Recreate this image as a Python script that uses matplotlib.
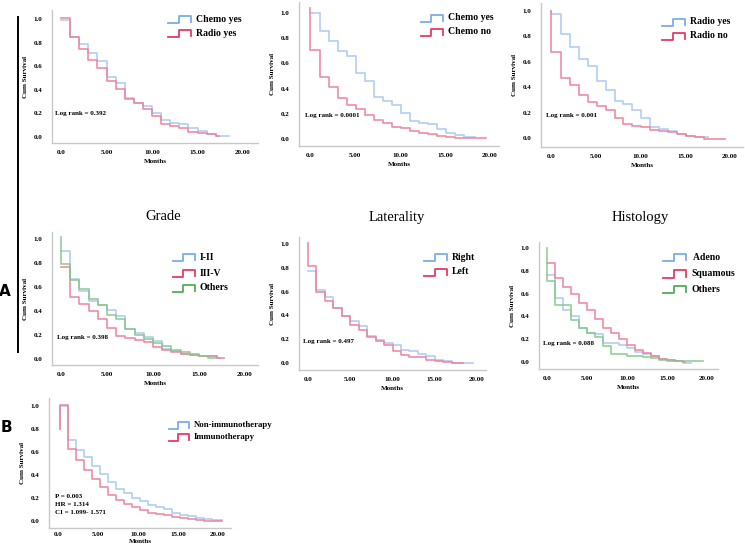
import matplotlib
matplotlib.use("Agg")
import matplotlib.pyplot as plt

W, H = 745, 547
SERIF = ["Liberation Serif", "DejaVu Serif"]

# ---------------- data ----------------
# Panel 1: Chemo yes vs Radio yes
p1_chemo_t = [0, 1, 2, 3, 4, 5, 6, 7, 8, 9, 10, 11, 12, 13, 14, 15, 16, 17, 18.5]
p1_chemo_s = [0.99, 0.85, 0.787, 0.71, 0.64, 0.51, 0.455, 0.327, 0.29, 0.26, 0.20, 0.148, 0.122, 0.114, 0.08, 0.048, 0.028, 0.009, 0.009]
p1_radio_t = [0, 1, 2, 3, 4, 5, 6, 7, 8, 9, 10, 11, 12, 13, 14, 15, 16, 17, 17.4]
p1_radio_s = [1.01, 0.85, 0.745, 0.653, 0.588, 0.474, 0.403, 0.318, 0.29, 0.24, 0.176, 0.114, 0.094, 0.077, 0.043, 0.034, 0.023, 0.006, 0.006]

# Panel 2: Chemo yes vs Chemo no
p2_yes_t = [0, 1.1, 2.1, 3.1, 4.1, 5.1, 6.1, 7.1, 8.1, 9.1, 10.1, 11.1, 12.1, 13.1, 14.1, 15.1, 16.1, 17.1, 18.3]
p2_yes_s = [1.0, 0.854, 0.78, 0.70, 0.655, 0.52, 0.46, 0.337, 0.30, 0.27, 0.21, 0.146, 0.13, 0.117, 0.077, 0.05, 0.032, 0.013, 0.013]
p2_no_t = [0, 0, 1.1, 2.1, 3.1, 4.1, 5.1, 6.1, 7.1, 8.1, 9.1, 10.1, 11.1, 12.1, 13.1, 14.1, 15.1, 16.1, 19.6]
p2_no_s = [1.04, 0.71, 0.49, 0.41, 0.325, 0.27, 0.236, 0.19, 0.15, 0.125, 0.098, 0.085, 0.064, 0.05, 0.037, 0.024, 0.013, 0.008, 0.008]

# Panel 3: Radio yes vs Radio no
p3_yes_t = [0, 0.05, 1.1, 2.1, 3.1, 4.1, 5.1, 6.1, 7.1, 8.1, 9.1, 10.1, 11.1, 12.1, 13.1, 14.1, 15.1, 16.1, 17.5]
p3_yes_s = [1.0, 0.98, 0.82, 0.72, 0.625, 0.565, 0.45, 0.375, 0.29, 0.27, 0.218, 0.157, 0.09, 0.073, 0.055, 0.034, 0.016, 0.008, 0.008]
p3_no_t = [0, 0, 1.1, 2.1, 3.1, 4.1, 5.1, 6.1, 7.1, 8.1, 9.1, 10.1, 11.1, 12.1, 13.1, 14.1, 15.1, 16.1, 17.1, 19.4]
p3_no_s = [1.0, 0.677, 0.47, 0.415, 0.34, 0.28, 0.25, 0.218, 0.16, 0.113, 0.097, 0.087, 0.066, 0.055, 0.047, 0.034, 0.013, 0.005, -0.005, -0.005]

# Panel 4: Grade
p4_g12_t = [0, 1, 2, 3, 4, 5, 6, 7, 8, 9, 10, 11, 12, 13, 14, 15, 16, 17, 17.3]
p4_g12_s = [0.90, 0.67, 0.57, 0.48, 0.45, 0.41, 0.36, 0.25, 0.22, 0.18, 0.147, 0.083, 0.064, 0.044, 0.036, 0.028, 0.022, 0.005, 0.005]
p4_g35_t = [0, 1, 2, 3, 4, 5, 6, 7, 8, 9, 10, 11, 12, 13, 14, 15, 16, 17, 17.7]
p4_g35_s = [0.77, 0.517, 0.46, 0.40, 0.33, 0.26, 0.195, 0.175, 0.155, 0.14, 0.10, 0.078, 0.061, 0.044, 0.036, 0.028, 0.022, 0.005, 0.005]
p4_oth_t = [0, 0, 1, 2, 3, 4, 5, 6, 7, 8, 9, 10, 11, 12, 13, 14, 15, 16, 17]
p4_oth_s = [1.02, 0.79, 0.66, 0.58, 0.50, 0.45, 0.37, 0.333, 0.25, 0.20, 0.167, 0.133, 0.105, 0.078, 0.056, 0.044, 0.022, 0.008, 0.008]

# Panel 5: Laterality
p5_right_t = [0, 1, 2, 3, 4, 5, 6, 7, 8, 9, 10, 11, 12, 13, 14, 15, 16, 17, 19.5]
p5_right_s = [0.776, 0.616, 0.552, 0.462, 0.398, 0.35, 0.308, 0.224, 0.196, 0.168, 0.154, 0.112, 0.098, 0.076, 0.056, 0.022, 0.014, 0.0, 0.0]
p5_left_t = [0, 0, 1, 2, 3, 4, 5, 6, 7, 8, 9, 10, 11, 12, 13, 14, 15, 16, 17, 18.3]
p5_left_s = [1.01, 0.818, 0.60, 0.52, 0.462, 0.398, 0.322, 0.28, 0.216, 0.182, 0.148, 0.098, 0.07, 0.05, 0.05, 0.022, 0.02, 0.008, 0.0, 0.0]

# Panel 6: Histology
p6_adeno_t = [0, 1, 2, 3, 4, 5, 6, 7, 8, 9, 10, 11, 12, 13, 14, 15, 16, 17, 18]
p6_adeno_s = [0.76, 0.56, 0.456, 0.40, 0.30, 0.253, 0.244, 0.17, 0.17, 0.145, 0.122, 0.084, 0.073, 0.05, 0.026, 0.02, 0.006, -0.01, -0.01]
p6_squam_t = [0, 1, 2, 3, 4, 5, 6, 7, 8, 9, 10, 11, 12, 13, 14, 15, 16, 17, 17.3]
p6_squam_s = [0.872, 0.733, 0.654, 0.593, 0.515, 0.456, 0.378, 0.302, 0.253, 0.20, 0.145, 0.102, 0.078, 0.055, 0.026, 0.02, 0.006, 0.0, 0.0]
p6_oth_t = [0, 0, 1, 2, 3, 4, 5, 6, 7, 8, 9, 10, 11, 12, 13, 14, 15, 16, 19.5]
p6_oth_s = [1.0, 0.71, 0.50, 0.50, 0.37, 0.30, 0.253, 0.215, 0.137, 0.073, 0.073, 0.055, 0.05, 0.04, 0.035, 0.02, 0.012, 0.006, 0.006]

# Panel B: Immunotherapy
pb_non_t = [0.2, 0.2, 1.2, 2.2, 3.2, 4.2, 5.2, 6.2, 7.2, 8.2, 9.2, 10.2, 11.2, 12.2, 13.2, 14.2, 15.2, 16.2, 17.2, 18.2, 19.2, 20.5]
pb_non_s = [0.8, 1.0, 0.707, 0.62, 0.556, 0.475, 0.41, 0.34, 0.28, 0.243, 0.203, 0.174, 0.136, 0.122, 0.107, 0.07, 0.05, 0.04, 0.029, 0.02, 0.006, 0.006]
pb_imm_t = [0.2, 0.2, 1.2, 2.2, 3.2, 4.2, 5.2, 6.2, 7.2, 8.2, 9.2, 10.2, 11.2, 12.2, 13.2, 14.2, 15.2, 16.2, 17.2, 18.2, 20.5]
pb_imm_s = [0.8, 1.01, 0.63, 0.527, 0.446, 0.368, 0.30, 0.23, 0.186, 0.145, 0.122, 0.10, 0.072, 0.064, 0.05, 0.035, 0.023, 0.015, 0.006, 0.0, 0.0]

x_ticks = [0, 5, 10, 15, 20]
x_ticklabels = ["0.0", "5.00", "10.00", "15.00", "20.00"]
y_ticks = [0.0, 0.2, 0.4, 0.6, 0.8, 1.0]
y_ticklabels = ["0.0", "0.2", "0.4", "0.6", "0.8", "1.0"]

BLUE_L, RED_L, GREEN_L = "#a9c9f2", "#ee7f9b", "#86c98a"
BLUE, RED, GREEN = "#79aeea", "#e43c66", "#4fae57"

fig = plt.figure(figsize=(W / 100, H / 100), dpi=100)
fig.patch.set_facecolor("white")


def fx(px):
    return px / W


def fy(py):
    return 1 - py / H


def make_axes(spine_x, axis_y, right_x, top_y, x0, x20, y1, y0, xlabpad=3, xpad=5):
    ax = fig.add_axes([fx(spine_x), fy(axis_y), (right_x - spine_x) / W, (axis_y - top_y) / H])
    sx = (x20 - x0) / 20.0
    sy = (y0 - y1) / 1.0
    ax.set_xlim((spine_x - x0) / sx, (right_x - x0) / sx)
    ax.set_ylim(-(axis_y - y0) / sy, (y0 - top_y) / sy)
    for s in ["top", "right"]:
        ax.spines[s].set_visible(False)
    for s in ["left", "bottom"]:
        ax.spines[s].set_color("#c8c8c8")
        ax.spines[s].set_linewidth(1.0)
    ax.set_xticks(x_ticks)
    ax.set_xticklabels(x_ticklabels)
    ax.set_yticks(y_ticks)
    ax.set_yticklabels(y_ticklabels)
    ax.tick_params(length=0, labelsize=5, pad=7)
    ax.tick_params(axis="x", pad=xpad)
    for lab in ax.get_xticklabels() + ax.get_yticklabels():
        lab.set_fontfamily(SERIF)
        lab.set_fontweight("bold")
    ax.set_xlabel("Months", fontsize=5, fontweight="bold", family=SERIF, labelpad=xlabpad)
    ax.set_ylabel("Cum Survival", fontsize=5, fontweight="bold", family=SERIF, labelpad=4)
    ax.patch.set_alpha(0)
    return ax


def curve(ax, t, s, color):
    ax.plot(t, s, drawstyle="steps-post", color=color, lw=1.2, alpha=0.9)


def legend_entry(x0, x1, yc, color, label, size=7):
    h = 7
    xm = x0 + 0.47 * (x1 - x0)
    xs = [x0, xm, xm, x1, x1]
    ys = [yc + h / 2, yc + h / 2, yc - h / 2, yc - h / 2, yc + h / 2 - 1]
    fig.add_artist(plt.Line2D([fx(v) for v in xs], [fy(v) for v in ys],
                              color=color, lw=1.3, transform=fig.transFigure))
    fig.text(fx(x1 + 5), fy(yc), label, fontsize=size, fontweight="bold",
             family=SERIF, va="center", ha="left")


def ftext(x, y, s, size=5, **kw):
    fig.text(fx(x), fy(y), s, fontsize=size, family=SERIF, va="center", ha="left", **kw)


# Panel 1
ax1 = make_axes(52, 143, 258, 10, 61, 243, 19, 137)
curve(ax1, p1_chemo_t, p1_chemo_s, BLUE_L)
curve(ax1, p1_radio_t, p1_radio_s, RED_L)
legend_entry(168, 191, 19, BLUE, "Chemo yes")
legend_entry(168, 191, 33, RED, "Radio yes")
ftext(55, 113, "Log rank = 0.392", fontweight="bold")

# Panel 2
ax2 = make_axes(299, 146, 499, 2, 310, 490, 13, 139)
curve(ax2, p2_yes_t, p2_yes_s, BLUE_L)
curve(ax2, p2_no_t, p2_no_s, RED_L)
legend_entry(421, 443, 18, BLUE, "Chemo yes")
legend_entry(421, 443, 32, RED, "Chemo no")
ftext(305, 116, "Log rank = 0.0001", fontweight="bold")

# Panel 3
ax3 = make_axes(541, 147, 743, 3, 551, 730, 11, 138)
curve(ax3, p3_yes_t, p3_yes_s, BLUE_L)
curve(ax3, p3_no_t, p3_no_s, RED_L)
legend_entry(662, 685, 22, BLUE, "Radio yes")
legend_entry(662, 685, 36, RED, "Radio no")
ftext(546, 115, "Log rank = 0.001", fontweight="bold")

# Panel 4
ax4 = make_axes(52, 365, 258, 232, 61, 245, 239, 359)
curve(ax4, p4_g12_t, p4_g12_s, BLUE_L)
curve(ax4, p4_g35_t, p4_g35_s, RED_L)
curve(ax4, p4_oth_t, p4_oth_s, GREEN_L)
legend_entry(173, 195, 257, BLUE, "I-II")
legend_entry(173, 195, 273, RED, "III-V")
legend_entry(173, 195, 288, GREEN, "Others")
ftext(57, 337, "Log rank = 0.398", fontweight="bold")
fig.text(fx(163), fy(217), "Grade", fontsize=10.5, family=SERIF, ha="center", va="center")

# Panel 5
ax5 = make_axes(299, 370, 486, 237, 308, 477, 244, 363)
curve(ax5, p5_right_t, p5_right_s, BLUE_L)
curve(ax5, p5_left_t, p5_left_s, RED_L)
legend_entry(424, 447, 257, BLUE, "Right")
legend_entry(424, 447, 272, RED, "Left")
ftext(303, 342, "Log rank = 0.497", fontweight="bold")
fig.text(fx(397), fy(217), "Laterality", fontsize=10.5, family=SERIF, ha="center", va="center")

# Panel 6
ax6 = make_axes(539, 369, 718, 242, 547, 707, 248, 362)
curve(ax6, p6_adeno_t, p6_adeno_s, BLUE_L)
curve(ax6, p6_squam_t, p6_squam_s, RED_L)
curve(ax6, p6_oth_t, p6_oth_s, GREEN_L)
legend_entry(663, 686, 257, BLUE, " Adeno")
legend_entry(663, 686, 274, RED, "Squamous")
legend_entry(663, 686, 289, GREEN, "Others")
ftext(543, 343, "Log rank = 0.088", fontweight="bold")
fig.text(fx(640), fy(217), "Histology", fontsize=10.5, family=SERIF, ha="center", va="center")

# Panel B
axb = make_axes(49, 528, 231, 398, 58, 218, 406, 521, xlabpad=1.5, xpad=3)
curve(axb, pb_non_t, pb_non_s, BLUE_L)
curve(axb, pb_imm_t, pb_imm_s, RED_L)
legend_entry(169, 189, 425, BLUE, "Non-immunotherapy", size=6.3)
legend_entry(169, 189, 437, RED, "Immunotherapy", size=6.3)
ftext(55, 497, "P = 0.003", fontweight="bold")
ftext(55, 505, "HR = 1.314", fontweight="bold")
ftext(55, 513, "CI = 1.099- 1.571", fontweight="bold")

# panel letters and bracket line
fig.add_artist(plt.Line2D([fx(18), fx(18)], [fy(17), fy(352)], color="black", lw=1.4,
                          transform=fig.transFigure))
fig.text(fx(5), fy(292), "A", fontsize=11, fontweight="bold", family="DejaVu Sans",
         ha="center", va="center")
fig.text(fx(6), fy(427), "B", fontsize=11, fontweight="bold", family="DejaVu Sans",
         ha="center", va="center")

fig.savefig("out.png", dpi=100, facecolor="white")
